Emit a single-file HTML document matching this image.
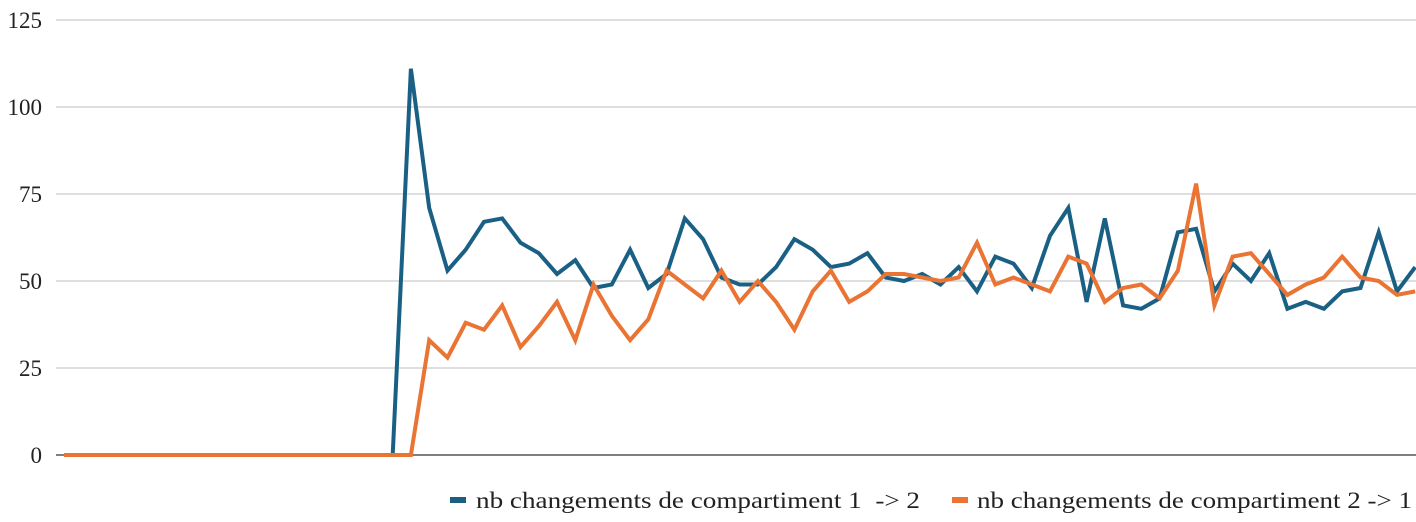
<!DOCTYPE html>
<html><head><meta charset="utf-8"><style>
html,body{margin:0;padding:0;background:#fff;width:1416px;height:522px;overflow:hidden}
</style></head><body>
<svg id="s" width="1416" height="522" xmlns="http://www.w3.org/2000/svg" font-family="'Liberation Serif', 'Times New Roman', 'DejaVu Serif', serif" font-size="23" fill="#222">
<g stroke="#cccccc" stroke-width="1.2">
<line x1="56" x2="1416" y1="20" y2="20"/><line x1="56" x2="1416" y1="107" y2="107"/>
<line x1="56" x2="1416" y1="194" y2="194"/><line x1="56" x2="1416" y1="281" y2="281"/>
<line x1="56" x2="1416" y1="368" y2="368"/>
</g>
<line x1="56" x2="1416" y1="455" y2="455" stroke="#333" stroke-width="1.3"/>
<g text-anchor="end">
<text x="42" y="28">125</text><text x="42" y="115">100</text><text x="42" y="202">75</text>
<text x="42" y="289">50</text><text x="42" y="376">25</text><text x="42" y="463">0</text>
</g>
<polyline id="b" fill="none" stroke="#1a6085" stroke-width="4" stroke-linejoin="miter"/>
<polyline id="o" fill="none" stroke="#e97434" stroke-width="4" stroke-linejoin="miter"/>
<rect x="450" y="497" width="16" height="6" fill="#1a6085"/>
<text x="476" y="508" textLength="444" lengthAdjust="spacingAndGlyphs">nb changements de compartiment 1&#160; -&gt; 2</text>
<rect x="952" y="497" width="16" height="6" fill="#e97434"/>
<text x="977" y="508" textLength="435" lengthAdjust="spacingAndGlyphs">nb changements de compartiment 2 -&gt; 1</text>
</svg>
<script>
var B=[111,71,53,59,67,68,61,58,52,56,48,49,59,48,52,68,62,51,49,49,54,62,59,54,55,58,51,50,52,49,54,47,57,55,48,63,71,44,68,43,42,45,64,65,47,55,50,58,42,44,42,47,48,64,47,54];
var O=[0,33,28,38,36,43,31,37,44,33,49,40,33,39,53,49,45,53,44,50,44,36,47,53,44,47,52,52,51,50,51,61,49,51,49,47,57,55,44,48,49,45,53,78,43,57,58,52,46,49,51,57,51,50,46,47];
function pts(a){var p=[];for(var i=0;i<19;i++)p.push([i,0]);
if(a===O){p.push([19,0]);for(var j=1;j<a.length;j++)p.push([19+j,a[j]]);}
else{for(var j=0;j<a.length;j++)p.push([19+j,a[j]]);}
return p.map(function(q){return (64+q[0]*18.26).toFixed(1)+","+(455-q[1]*3.48).toFixed(1)}).join(" ");}
document.getElementById("b").setAttribute("points",pts(B));
document.getElementById("o").setAttribute("points",pts(O));
</script>
</body></html>
